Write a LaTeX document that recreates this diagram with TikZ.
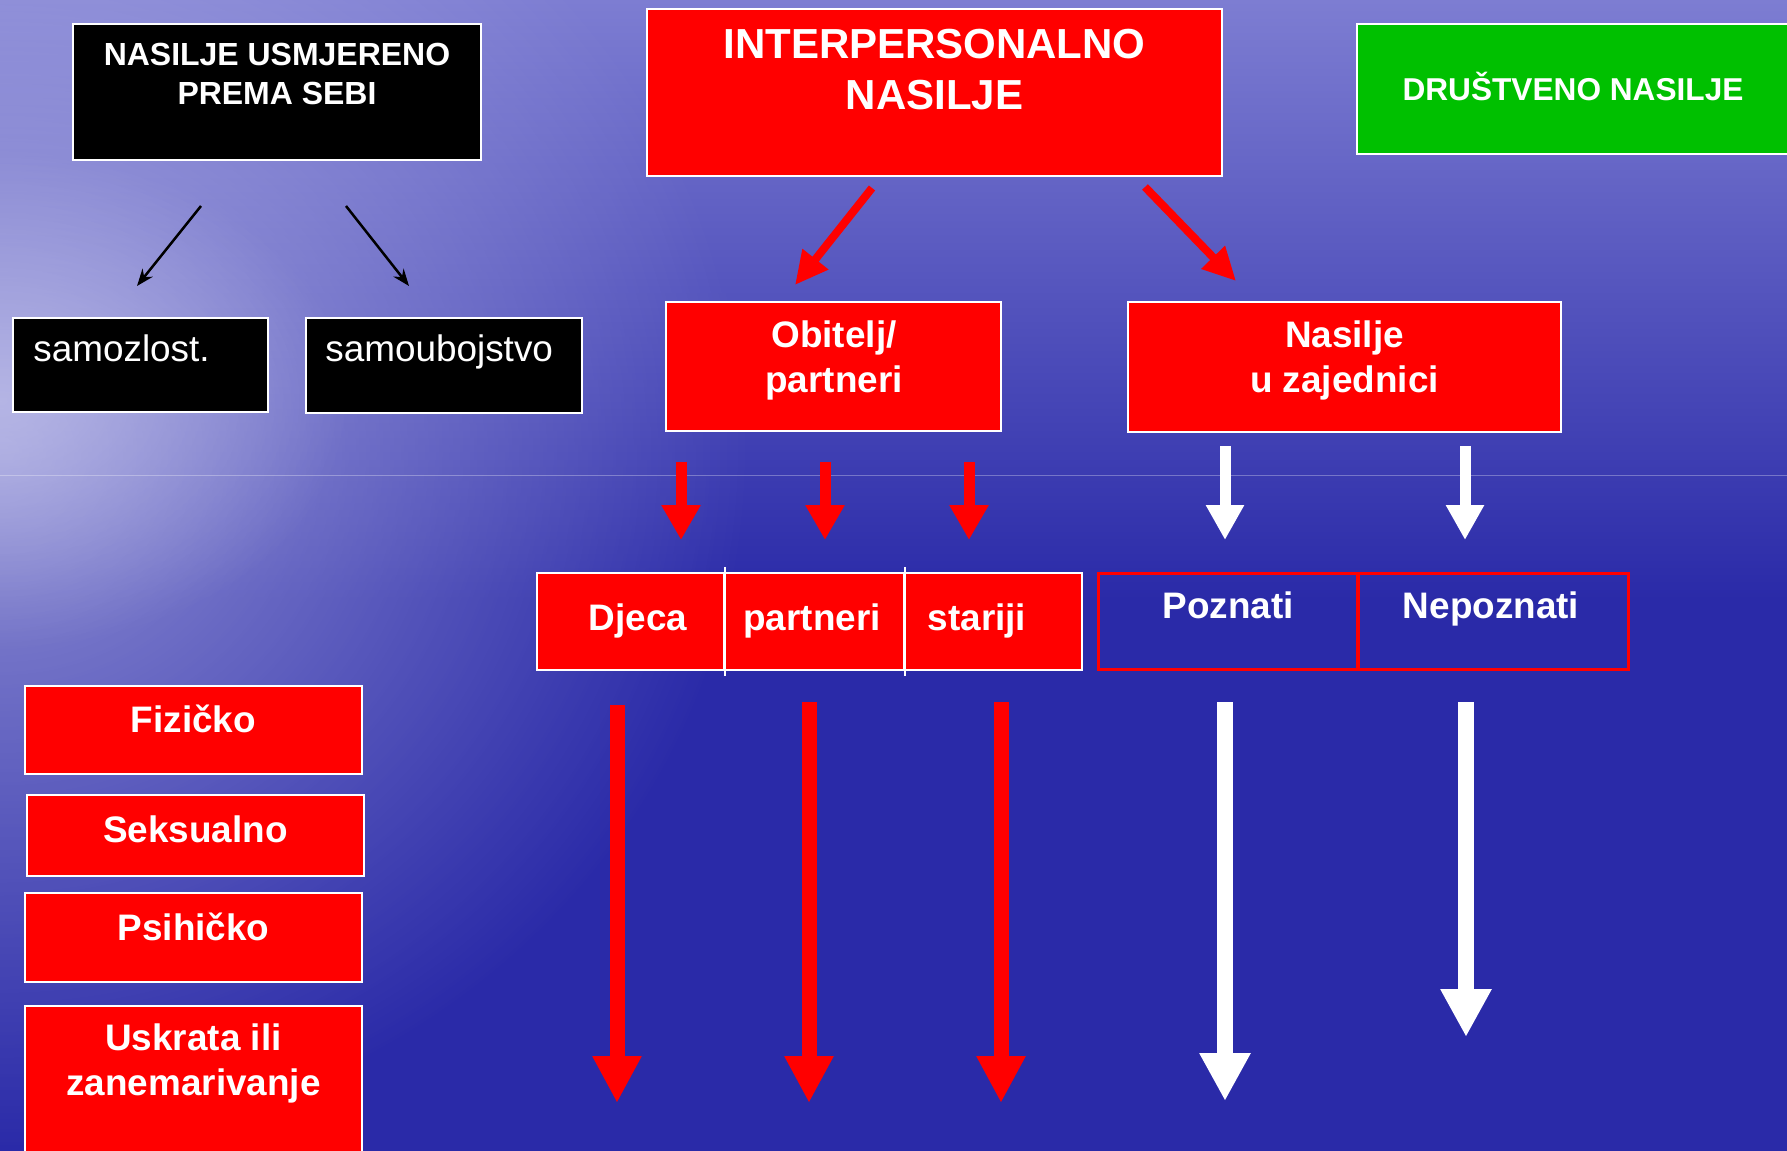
\documentclass[tikz,border=0pt]{standalone}
\usepackage{fontspec}
\setmainfont{Liberation Sans}
\usetikzlibrary{arrows.meta,fadings}

\definecolor{bgdeep}{RGB}{42,42,168}
\definecolor{bgtop}{RGB}{125,125,210}
\definecolor{bgglow}{RGB}{212,212,242}
\definecolor{boxred}{RGB}{255,0,0}
\definecolor{boxgreen}{RGB}{0,192,0}

\tikzfading[name=glowfade, inner color=transparent!15, outer color=transparent!100]

\tikzset{
  box/.style={draw=white, line width=0.05cm, inner sep=0pt},
  redbox/.style={box, fill=boxred},
  blackbox/.style={box, fill=black},
  greenbox/.style={box, fill=boxgreen},
  linebox/.style={draw=boxred, line width=0.06cm, inner sep=0pt},
  txt/.style={text=white, font=\bfseries\fontsize{21}{25.6}\selectfont, align=center, inner sep=0pt},
  plaintxt/.style={text=white, font=\fontsize{21}{25.6}\selectfont, inner sep=0pt},
  smalltitle/.style={txt, font=\bfseries\fontsize{18.2}{21.8}\selectfont},
  bigtitle/.style={txt, font=\bfseries\fontsize{23.9}{29}\selectfont},
  divider/.style={draw=white, line width=0.05cm},
  thinarrow/.style={-{Stealth[length=0.34cm,width=0.26cm]}, line width=0.05cm, black},
  diagarrow/.style={-{Triangle[length=0.66cm,width=0.62cm]}, line width=0.16cm, boxred},
  shortred/.style={-{Triangle[length=0.7cm,width=0.74cm]}, line width=0.22cm, boxred},
  shortwhite/.style={-{Triangle[length=0.7cm,width=0.72cm]}, line width=0.22cm, white},
  longred/.style={-{Triangle[length=0.94cm,width=0.92cm]}, line width=0.3cm, boxred},
  longwhite/.style={-{Triangle[length=0.96cm,width=0.96cm]}, line width=0.32cm, white}
}

\begin{document}
\begin{tikzpicture}[x=0.02cm, y=-0.02cm]
      \useasboundingbox (0,0) rectangle (1787,1151);
      \clip (0,0) rectangle (1787,1151);
      % background
      \fill[bgdeep] (0,0) rectangle (1787,1151);
      \shade[top color=bgtop, bottom color=bgdeep] (0,0) rectangle (1787,600);
      \fill[bgglow, opacity=0.7, path fading=glowfade] (-750,-250) rectangle (750,1150);
      \fill[bgglow, opacity=0.6, path fading=glowfade] (-350,150) rectangle (350,650);
      \draw[white, opacity=0.3, line width=0.02cm] (0,476) -- (1787,476);

      % top row
      \node[blackbox, minimum width=8.16cm, minimum height=2.72cm] (self) at (277,92) {};
      \node[smalltitle] (selftext) at (277,74) {NASILJE USMJERENO\\PREMA SEBI};
      \node[redbox, minimum width=11.5cm, minimum height=3.34cm] (inter) at (934.5,92.5) {};
      \node[bigtitle] (intertext) at (934.5,70) {INTERPERSONALNO\\NASILJE};
      \node[greenbox, minimum width=8.64cm, minimum height=2.6cm] (drus) at (1573,89) {};
      \node[smalltitle, anchor=base, font=\bfseries\fontsize{18}{22}\selectfont] (drustext) at (1573,101) {DRUŠTVENO NASILJE};

      % second row
      \node[blackbox, minimum width=5.1cm, minimum height=1.88cm] (samoz) at (140.5,365) {};
      \node[plaintxt, anchor=base west] (samoztext) at (33,362) {samozlost.};
      \node[blackbox, minimum width=5.52cm, minimum height=1.9cm] (samoub) at (444,365.5) {};
      \node[plaintxt, anchor=base west] (samoubtext) at (325,362) {samoubojstvo};
      \node[redbox, minimum width=6.7cm, minimum height=2.58cm] (obit) at (833.5,366.5) {};
      \node[txt] (obittext) at (834,360) {Obitelj/\\partneri};
      \node[redbox, minimum width=8.66cm, minimum height=2.6cm] (zaj) at (1344.5,367) {};
      \node[txt] (zajtext) at (1344.5,360) {Nasilje\\u zajednici};

      % third row
      \node[redbox, minimum width=3.74cm, minimum height=1.94cm] (djeca) at (630.5,621.5) {};
      \node[redbox, minimum width=3.6cm, minimum height=1.94cm] (part) at (814,621.5) {};
      \node[redbox, minimum width=3.56cm, minimum height=1.94cm] (star) at (993,621.5) {};
      \draw[divider] ([yshift=0.1cm]djeca.north east) -- ([yshift=-0.1cm]djeca.south east);
      \draw[divider] ([yshift=0.1cm]part.north east) -- ([yshift=-0.1cm]part.south east);
      \node[txt, anchor=base] (djecatext) at (638,630) {Djeca};
      \node[txt, anchor=base] (parttext) at (812,630) {partneri};
      \node[txt, anchor=base] (startext) at (977,630) {stariji};
      \node[linebox, minimum width=5.2cm, minimum height=1.94cm] (pozn) at (1228,621.5) {};
      \node[linebox, minimum width=5.42cm, minimum height=1.94cm] (nepozn) at (1493.5,621.5) {};
      \node[txt, anchor=base] (pozntext) at (1228,618) {Poznati};
      \node[txt, anchor=base] (nepozntext) at (1491,618) {Nepoznati};

      % left column
      \node[redbox, minimum width=6.74cm, minimum height=1.76cm] (fiz) at (193.5,730) {};
      \node[txt, anchor=base] (fiztext) at (193.5,732) {Fizičko};
      \node[redbox, minimum width=6.74cm, minimum height=1.62cm] (seks) at (195.5,835.5) {};
      \node[txt, anchor=base] (sekstext) at (195.5,842) {Seksualno};
      \node[redbox, minimum width=6.74cm, minimum height=1.78cm] (psih) at (193.5,937.5) {};
      \node[txt, anchor=base] (psihtext) at (193.5,940) {Psihičko};
      \node[redbox, minimum width=6.74cm, minimum height=3.08cm] (uskr) at (193.5,1083) {};
      \node[txt] (uskrtext) at (193.5,1063.5) {Uskrata ili\\zanemarivanje};

      % arrow ends
      \coordinate (a1) at (201,206);
      \coordinate (b1) at (137,286);
      \coordinate (a2) at (346,206);
      \coordinate (b2) at (409,286);
      \coordinate (a3) at (872,188);
      \coordinate (b3) at (795,285);
      \coordinate (a4) at (1145,187);
      \coordinate (b4) at (1236,281);
      \coordinate (c1) at (681,462);
      \coordinate (d1) at (681,540);
      \coordinate (c2) at (825,462);
      \coordinate (d2) at (825,540);
      \coordinate (c3) at (969,462);
      \coordinate (d3) at (969,540);
      \coordinate (c4) at (1225,446);
      \coordinate (d4) at (1225,540);
      \coordinate (c5) at (1465,446);
      \coordinate (d5) at (1465,540);
      \coordinate (e1) at (617,705);
      \coordinate (f1) at (617,1103);
      \coordinate (e2) at (809,702);
      \coordinate (f2) at (809,1103);
      \coordinate (e3) at (1001,702);
      \coordinate (f3) at (1001,1103);
      \coordinate (e4) at (1225,702);
      \coordinate (f4) at (1225,1101);
      \coordinate (e5) at (1466,702);
      \coordinate (f5) at (1466,1037);

      \draw[thinarrow] (a1) -- (b1);
      \draw[thinarrow] (a2) -- (b2);
      \draw[diagarrow] (a3) -- (b3);
      \draw[diagarrow] (a4) -- (b4);
      \draw[shortred] (c1) -- (d1);
      \draw[shortred] (c2) -- (d2);
      \draw[shortred] (c3) -- (d3);
      \draw[shortwhite] (c4) -- (d4);
      \draw[shortwhite] (c5) -- (d5);
      \draw[longred] (e1) -- (f1);
      \draw[longred] (e2) -- (f2);
      \draw[longred] (e3) -- (f3);
      \draw[longwhite] (e4) -- (f4);
      \draw[longwhite] (e5) -- (f5);
    \end{tikzpicture}
\end{document}
